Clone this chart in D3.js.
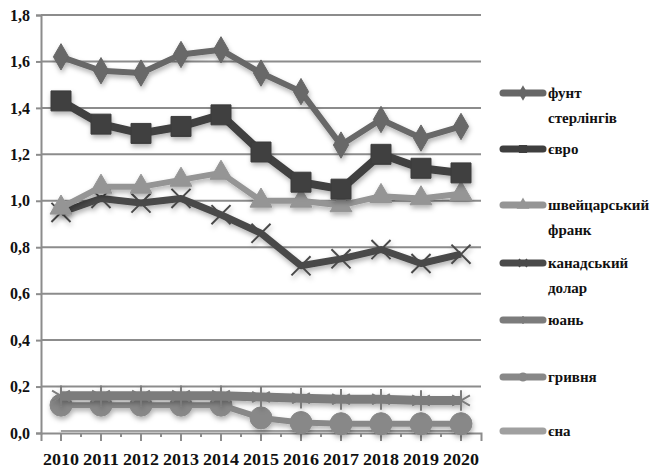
<!DOCTYPE html>
<html>
<head>
<meta charset="utf-8">
<script src="https://cdn.jsdelivr.net/npm/d3@7"></script>
<style>
  body { margin: 0; background: #fff; }
  svg { display: block; }
</style>
</head>
<body>
<svg id="chart" width="654" height="469"></svg>
<script>
const years = ["2010", "2011", "2012", "2013", "2014", "2015", "2016", "2017", "2018", "2019", "2020"];
const yTicks = [0, 0.2, 0.4, 0.6, 0.8, 1.0, 1.2, 1.4, 1.6, 1.8];

const gbp = [1.62, 1.56, 1.55, 1.63, 1.65, 1.55, 1.47, 1.24, 1.35, 1.27, 1.32];
const eur = [1.43, 1.33, 1.29, 1.32, 1.37, 1.21, 1.08, 1.05, 1.20, 1.14, 1.12];
const chf = [0.97, 1.06, 1.06, 1.09, 1.12, 1.00, 1.00, 0.98, 1.02, 1.01, 1.03];
const cad = [0.95, 1.01, 0.99, 1.01, 0.94, 0.86, 0.72, 0.75, 0.79, 0.73, 0.77];
const cny = [0.16, 0.16, 0.16, 0.16, 0.16, 0.155, 0.15, 0.145, 0.145, 0.14, 0.14];
const uah = [0.12, 0.12, 0.12, 0.12, 0.12, 0.065, 0.045, 0.04, 0.04, 0.04, 0.04];
const jpy = [0.012, 0.012, 0.010, 0.0095, 0.0095, 0.0083, 0.0092, 0.0089, 0.009, 0.0092, 0.0094];

const seriesNames = ["фунт стерлінгів", "євро", "швейцарський франк", "канадський долар", "юань", "гривня", "єна"];

const FONT = "'Liberation Serif', 'Times New Roman', 'DejaVu Serif', serif";

const series = [
  { name: seriesNames[0], values: gbp, color: "#676767", width: 6, symbol: d3.symbolDiamond, size: 200, fill: true },
  { name: seriesNames[1], values: eur, color: "#3f3f3f", width: 8, symbol: d3.symbolSquare, size: 400, fill: true },
  { name: seriesNames[2], values: chf, color: "#959595", width: 6, symbol: d3.symbolTriangle, size: 210, fill: true },
  { name: seriesNames[3], values: cad, color: "#4a4a4a", width: 7, symbol: d3.symbolTimes, size: 240, fill: false },
  { name: seriesNames[4], values: cny, color: "#7c7c7c", width: 9, symbol: d3.symbolAsterisk, size: 300, fill: false },
  { name: seriesNames[5], values: uah, color: "#888888", width: 6, symbol: d3.symbolCircle, size: 380, fill: true },
  { name: seriesNames[6], values: jpy, color: "#a0a0a0", width: 8, symbol: null, size: 0, fill: true }
];

const svg = d3.select("#chart");

const defs = svg.append("defs");
const f = defs.append("filter").attr("id", "shadow").attr("x", "-20%").attr("y", "-20%").attr("width", "140%").attr("height", "160%");
f.append("feDropShadow").attr("dx", 1).attr("dy", 3).attr("stdDeviation", 2.5).attr("flood-color", "#000").attr("flood-opacity", 0.3);

const x = d3.scaleBand().domain(years).range([41, 481]);
const y = d3.scaleLinear().domain([0, 1.8]).range([433, 15]);

// gridlines
svg.append("g")
  .selectAll("line")
  .data(yTicks.filter(d => d > 0))
  .join("line")
  .attr("x1", 41).attr("x2", 481)
  .attr("y1", d => y(d)).attr("y2", d => y(d))
  .attr("stroke", "#8c8c8c").attr("stroke-width", 2);

// y axis
const yAxis = svg.append("g")
  .attr("transform", "translate(41,0)")
  .call(d3.axisLeft(y).tickValues(yTicks).tickSize(5).tickPadding(6)
    .tickFormat(d => d3.format(".1f")(d).replace(".", ",")));
yAxis.select(".domain").attr("stroke", "#8c8c8c").attr("stroke-width", 2);
yAxis.selectAll(".tick line").attr("stroke", "#8c8c8c").attr("stroke-width", 2);
yAxis.selectAll(".tick text")
  .attr("font-family", FONT).attr("font-weight", "bold").attr("font-size", 16).attr("fill", "#111");

// x axis
const xAxis = svg.append("g")
  .attr("transform", "translate(0,433)")
  .call(d3.axisBottom(x).tickSize(8).tickPadding(13));
xAxis.select(".domain").attr("stroke", "#8c8c8c").attr("stroke-width", 2);
xAxis.selectAll(".tick line").attr("stroke", "#8c8c8c").attr("stroke-width", 2);
xAxis.selectAll(".tick text")
  .attr("font-family", FONT).attr("font-weight", "bold").attr("font-size", 16).attr("fill", "#111")
  .attr("textLength", 36).attr("lengthAdjust", "spacingAndGlyphs");
// short ticks on band boundaries
xAxis.append("g")
  .selectAll("line")
  .data(years.slice(1))
  .join("line")
  .attr("x1", d => x(d)).attr("x2", d => x(d))
  .attr("y1", 0).attr("y2", 4)
  .attr("stroke", "#8c8c8c").attr("stroke-width", 2);

const cx = (d, i) => x(years[i]) + x.bandwidth() / 2;
const line = d3.line().x((d, i) => cx(d, i)).y(d => y(d));

// draw bottom series first so upper ones overlay
const drawOrder = [6, 5, 4, 3, 2, 1, 0];
drawOrder.forEach(k => {
  const s = series[k];
  const g = svg.append("g").attr("filter", "url(#shadow)");
  g.append("path")
    .attr("d", line(s.values))
    .attr("fill", "none")
    .attr("stroke", s.color)
    .attr("stroke-width", s.width)
    .attr("stroke-linejoin", "round");
  if (s.symbol) {
    const sym = d3.symbol().type(s.symbol).size(s.size);
    g.selectAll("path.m")
      .data(s.values)
      .join("path")
      .attr("class", "m")
      .attr("transform", (d, i) => `translate(${cx(d, i)},${y(d)})`)
      .attr("d", sym())
      .attr("fill", s.fill ? s.color : "none")
      .attr("stroke", s.color)
      .attr("stroke-width", s.fill ? 1 : 2);
  }
});

// legend
const legendY = [93, 149, 205, 263, 320, 377, 431];
const legend = svg.append("g");
series.forEach((s, i) => {
  const g = legend.append("g").attr("transform", `translate(0,${legendY[i]})`);
  g.append("line")
    .attr("x1", 503).attr("x2", 543).attr("y1", 0).attr("y2", 0)
    .attr("stroke", s.color).attr("stroke-width", 7).attr("stroke-linecap", "round");
  if (s.symbol) {
    g.append("path")
      .attr("transform", "translate(523,0)")
      .attr("d", d3.symbol().type(s.symbol).size(45)())
      .attr("fill", s.fill ? s.color : "none")
      .attr("stroke", s.color).attr("stroke-width", 1.5);
  }
  const words = s.name.split(" ");
  const t = g.append("text")
    .attr("x", 548).attr("y", 5)
    .attr("font-family", FONT)
    .attr("font-weight", "bold")
    .attr("font-size", 15)
    .attr("fill", "#111");
  words.forEach((w, j) => {
    t.append("tspan").attr("x", 548).attr("dy", j === 0 ? 0 : 25).text(w);
  });
});
</script>
</body>
</html>
